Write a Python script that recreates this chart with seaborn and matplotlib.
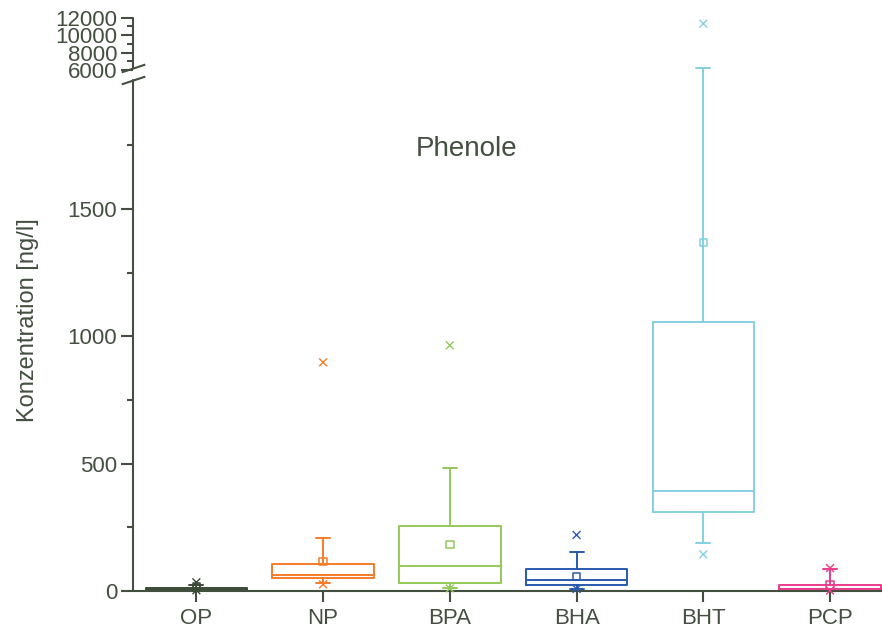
import numpy as np
import matplotlib
matplotlib.use("Agg")
import matplotlib.pyplot as plt
import matplotlib.transforms as mtrans
from matplotlib.ticker import FixedLocator
import seaborn as sns

# Box statistics (ng/l)
substanzen = ['OP', 'NP', 'BPA', 'BHA', 'BHT', 'PCP']
farben = ['#3b4a37', '#f47c2b', '#92c95a', '#2a59ad', '#84d0e3', '#ea3b8a']
q1 = [2, 50, 30, 22, 309, 1]
median = [5, 63, 100, 43, 394, 8]
q3 = [12, 108, 256, 86, 1058, 22]
whisker_lo = [0, 30, 10, 8, 187, 0]
whisker_hi = [22, 210, 484, 155, 6250, 88]
mittelwert = [18, 115, 183, 58, 1368, 24]
perz_lo = [3, 26, 10, 8, 144, 2]
perz_hi = [34, 898, 965, 220, 11300, 90]

achse = '#434f3f'

sns.set_style('ticks')
plt.rcParams['font.family'] = ['Liberation Sans', 'DejaVu Sans']
plt.rcParams['text.color'] = achse
plt.rcParams['axes.labelcolor'] = achse
plt.rcParams['xtick.color'] = achse
plt.rcParams['ytick.color'] = achse


# broken y axis: 0-2000 linear, 2000-6000 squeezed into a gap, 6000-12000 compressed
def vorwaerts(v):
    v = np.asarray(v, dtype=float)
    return np.where(v <= 2000, v,
                    np.where(v <= 6000, 2000 + (v - 2000) * (46 / 4000),
                             2046 + (v - 6000) * (206.5 / 6000)))


def rueckwaerts(u):
    u = np.asarray(u, dtype=float)
    return np.where(u <= 2000, u,
                    np.where(u <= 2046, 2000 + (u - 2000) / (46 / 4000),
                             6000 + (u - 2046) / (206.5 / 6000)))


fig = plt.figure(figsize=(8.82, 6.32), dpi=100)
ax = fig.add_axes([133 / 882, 41 / 632, 749 / 882, 573.5 / 632])
ax.set_yscale('function', functions=(vorwaerts, rueckwaerts))

pos = np.arange(len(substanzen))
stats = []
for i, name in enumerate(substanzen):
    stats.append({'label': name, 'q1': q1[i], 'med': median[i], 'q3': q3[i],
                  'whislo': whisker_lo[i], 'whishi': whisker_hi[i], 'fliers': []})

bp = ax.bxp(stats, positions=pos, widths=0.8, showfliers=False, patch_artist=False,
            capwidths=0.11)
for i, c in enumerate(farben):
    teile = [bp['boxes'][i], bp['medians'][i],
             bp['whiskers'][2 * i], bp['whiskers'][2 * i + 1],
             bp['caps'][2 * i], bp['caps'][2 * i + 1]]
    for t in teile:
        t.set_color(c)
        t.set_linewidth(1.4)
        t.set_clip_on(False)

# mean as open square
ax.scatter(pos, mittelwert, marker='s', s=28, facecolors='none',
           edgecolors=farben, linewidths=1.1, zorder=3, clip_on=False)

# 1% / 99% markers
palette = dict(zip(substanzen, farben))
for werte in (perz_lo, perz_hi):
    sns.scatterplot(x=pos, y=werte, hue=substanzen, palette=palette, marker='x',
                    s=32, linewidth=1.0, legend=False, ax=ax, zorder=3, clip_on=False)

ax.set_xlim(-0.5, 5.41)
ax.set_ylim(0, 12000)
ax.set_xticks(pos, labels=substanzen)
ax.yaxis.set_major_locator(FixedLocator([0, 500, 1000, 1500, 6000, 8000, 10000, 12000]))
ax.yaxis.set_minor_locator(FixedLocator([250, 750, 1250, 1750, 7000, 9000, 11000]))
ax.set_yticklabels(['0', '500', '1000', '1500', '6000', '8000', '10000', '12000'])
ax.tick_params(axis='both', which='major', length=8.5, width=1.5, labelsize=16, pad=3)
ax.tick_params(axis='y', which='minor', length=4.5, width=1.5)
ax.tick_params(axis='x', which='major', length=8, pad=4)

sns.despine(ax=ax)
ax.spines['bottom'].set_color(achse)
ax.spines['bottom'].set_linewidth(1.5)
ax.spines['left'].set_visible(False)

# left spine in two pieces with break marks
trans = mtrans.blended_transform_factory(ax.transAxes, ax.transData)
ax.plot([0, 0], [0, 2600], color=achse, lw=1.5, transform=trans, clip_on=False)
ax.plot([0, 0], [6230, 12000], color=achse, lw=1.5, transform=trans, clip_on=False)
strich = [(-1, -0.33), (1, 0.33)]
for y in (2600, 6230):
    ax.plot([0], [y], marker=strich, markersize=17, markeredgewidth=1.5,
            color=achse, transform=trans, clip_on=False)

ax.text(-0.14, 0.4725, 'Konzentration [ng/l]', rotation=90, ha='center', va='center',
        fontsize=17, transform=ax.transAxes)
ax.text(0.446, 0.771, 'Phenole', ha='center', va='center', fontsize=20,
        transform=ax.transAxes)

fig.savefig('out.png', dpi=100)
